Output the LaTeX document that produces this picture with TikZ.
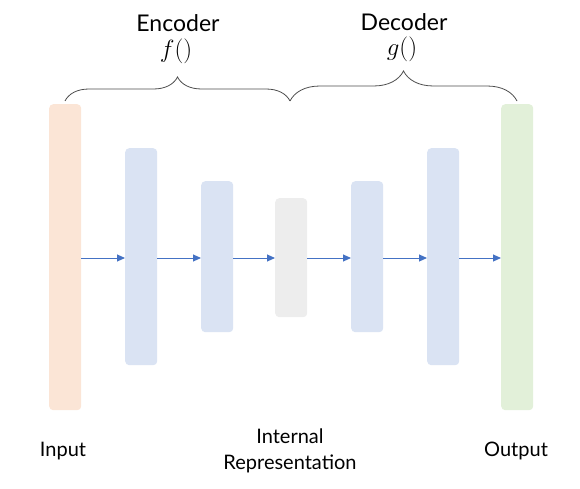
\documentclass[tikz,border=0pt]{standalone}
\usepackage{fontspec}
\setmainfont{Lato}
\usetikzlibrary{arrows.meta,decorations.pathreplacing}
\definecolor{inc}{HTML}{FBE5D6}
\definecolor{hid}{HTML}{DAE3F3}
\definecolor{mid}{HTML}{EDEDED}
\definecolor{outc}{HTML}{E2F0D9}
\definecolor{arr}{HTML}{4472C4}
\begin{document}
\begin{tikzpicture}[x=1pt,y=-1pt,
  bar/.style={draw=none,rounded corners=4pt,minimum width=32pt,inner sep=0pt,anchor=north west},
  link/.style={draw=arr,line width=1pt,-{Triangle[length=8pt,width=7pt]}},
  lbl/.style={font=\fontsize{20}{26}\selectfont,align=center},
  head/.style={font=\fontsize{23}{26}\selectfont},
  fn/.style={font=\fontsize{27}{30}\selectfont},
  brace/.style={draw=black!70,line width=0.8pt}]
\useasboundingbox (0,0) rectangle (580,489);
\node[bar,fill=inc,minimum height=306pt] (in) at (49,104) {};
\node[bar,fill=hid,minimum height=217pt] (h1) at (125,148) {};
\node[bar,fill=hid,minimum height=151pt] (h2) at (201,181) {};
\node[bar,fill=mid,minimum height=119pt] (z) at (275,198) {};
\node[bar,fill=hid,minimum height=151pt] (h3) at (351,181) {};
\node[bar,fill=hid,minimum height=217pt] (h4) at (427,148) {};
\node[bar,fill=outc,minimum height=306pt] (out) at (501,104) {};
\coordinate (y) at (0,258);
\draw[link] (in.east |- y) -- (h1.west |- y);
\draw[link] (h1.east |- y) -- (h2.west |- y);
\draw[link] (h2.east |- y) -- (z.west |- y);
\draw[link] (z.east |- y) -- (h3.west |- y);
\draw[link] (h3.east |- y) -- (h4.west |- y);
\draw[link] (h4.east |- y) -- (out.west |- y);
\coordinate (b1) at (65,101);
\coordinate (b2) at (290,101);
\coordinate (b3) at (517,101);
\draw[brace,decorate,decoration={brace,amplitude=24pt,aspect=0.5}] (b1) -- (b2);
\draw[brace,decorate,decoration={brace,amplitude=30pt,aspect=0.5}] (b2) -- (b3);
\node[head] (enc) at (178,23) {Encoder};
\node[fn] (f) at (176,51) {$f()$};
\node[head] (dec) at (404,22) {Decoder};
\node[fn] (g) at (402,49) {$g()$};
\node[lbl] (tin) at (63,451) {Input};
\node[lbl] (tz) at (290,451) {Internal\\Representation};
\node[lbl] (tout) at (516,451) {Output};
\end{tikzpicture}
\end{document}
